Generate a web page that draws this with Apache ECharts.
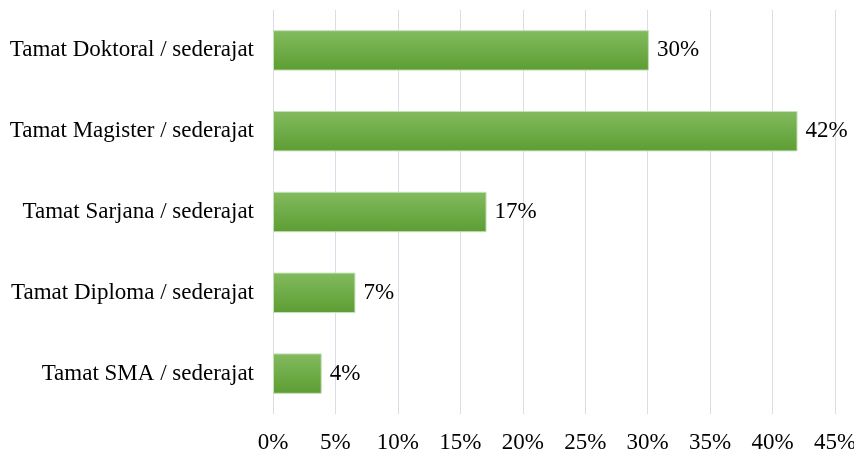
<!DOCTYPE html>
<html><head><meta charset="utf-8">
<script src="https://cdn.jsdelivr.net/npm/echarts@6/dist/echarts.min.js"></script>
<style>html,body{margin:0;padding:0;background:#fff}#c{width:854px;height:450px}</style>
</head><body><div id="c"></div>
<script>
const categories = ["Tamat SMA / sederajat","Tamat Diploma / sederajat","Tamat Sarjana / sederajat","Tamat Magister / sederajat","Tamat Doktoral / sederajat"];
const values = [3.9, 6.6, 17.1, 42.0, 30.1];
const xTicks = [0,5,10,15,20,25,30,35,40,45];

const chart = echarts.init(document.getElementById('c'));
const font = '"Liberation Serif","Times New Roman",serif';
chart.setOption({
  animation:false,
  grid:{left:273,right:19,top:10,bottom:36,containLabel:false,outerBoundsMode:'none'},
  xAxis:{type:'value',min:xTicks[0],max:xTicks[xTicks.length-1],interval:5,
    axisLine:{show:false},axisTick:{show:false},
    splitLine:{lineStyle:{color:'#d9dde6',width:1}},
    axisLabel:{formatter:v=>v+'%',color:'#000',fontFamily:font,fontSize:23,margin:17}},
  yAxis:{type:'category',data:categories,
    axisLine:{show:false},axisTick:{show:false},
    axisLabel:{color:'#000',fontFamily:font,fontSize:23,margin:19}},
  series:[{type:'bar',data:values,barCategoryGap:'50%',
    itemStyle:{color:new echarts.graphic.LinearGradient(0,0,0,1,[{offset:0,color:'#83bb5e'},{offset:1,color:'#5c9d33'}]),
      borderColor:'#c6dfb5',borderWidth:1},
    label:{show:true,position:'right',distance:8,formatter:p=>Math.round(p.value)+'%',color:'#000',fontFamily:font,fontSize:23}}]
});
</script></body></html>
